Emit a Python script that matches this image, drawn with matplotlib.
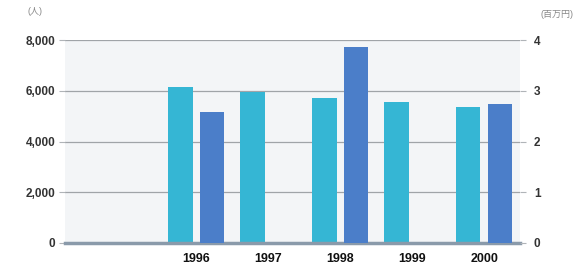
import numpy as np
import matplotlib.pyplot as plt

plt.rcParams['font.family'] = ['Liberation Sans', 'Noto Sans CJK JP', 'DejaVu Sans']

years = ['1996', '1997', '1998', '1999', '2000']
people = [6150, 5950, 5720, 5550, 5380]           # left axis (人)
money = [2.58, np.nan, 3.86, np.nan, 2.74]        # right axis (百万円)

fig = plt.figure(figsize=(5.87, 2.64), dpi=100)
ax = fig.add_axes([0.111, 0.08, 0.775, 0.768])
ax2 = ax.twinx()

x = np.arange(len(years))
w = 0.34
ax.bar(x - 0.22, people, w, color='#35b6d4', zorder=3)
ax2.bar(x + 0.22, money, w, color='#4b7ec9', zorder=3)

ax.set_facecolor('#f3f5f7')
ax.set_xlim(-1.82, 4.5)
ax.set_ylim(0, 8000)
ax2.set_ylim(0, 4)
ax.set_yticks([0, 2000, 4000, 6000, 8000])
ax.set_yticklabels(['0', '2,000', '4,000', '6,000', '8,000'])
ax2.set_yticks([0, 1, 2, 3, 4])
ax.yaxis.grid(True, color='#a0a4a8', lw=0.9, zorder=1)
ax.set_xticks(x)
ax.set_xticklabels(years)

for a in (ax, ax2):
    for s in a.spines.values():
        s.set_visible(False)
ax.spines['bottom'].set_visible(True)
ax.spines['bottom'].set_color('#8a9aaa')
ax.spines['bottom'].set_linewidth(2.5)
ax.spines['bottom'].set_zorder(4)

ax.tick_params(axis='y', length=4, color='#b0b4b8', labelsize=8.5, labelcolor='#333333', pad=3)
ax2.tick_params(axis='y', length=4, color='#b0b4b8', labelsize=8.5, labelcolor='#333333', pad=6)
for lbl in ax.get_yticklabels() + ax2.get_yticklabels():
    lbl.set_fontweight('bold')
ax.tick_params(axis='x', length=0, labelsize=9, labelcolor='#111111', pad=7)
for lbl in ax.get_xticklabels():
    lbl.set_fontweight('bold')

fig.text(0.06, 0.955, '(人)', fontsize=6.5, color='#888888', ha='center', va='center')
fig.text(0.92, 0.945, '(百万円)', fontsize=6.5, color='#888888', ha='left', va='center')

fig.savefig('out.png', dpi=100)
